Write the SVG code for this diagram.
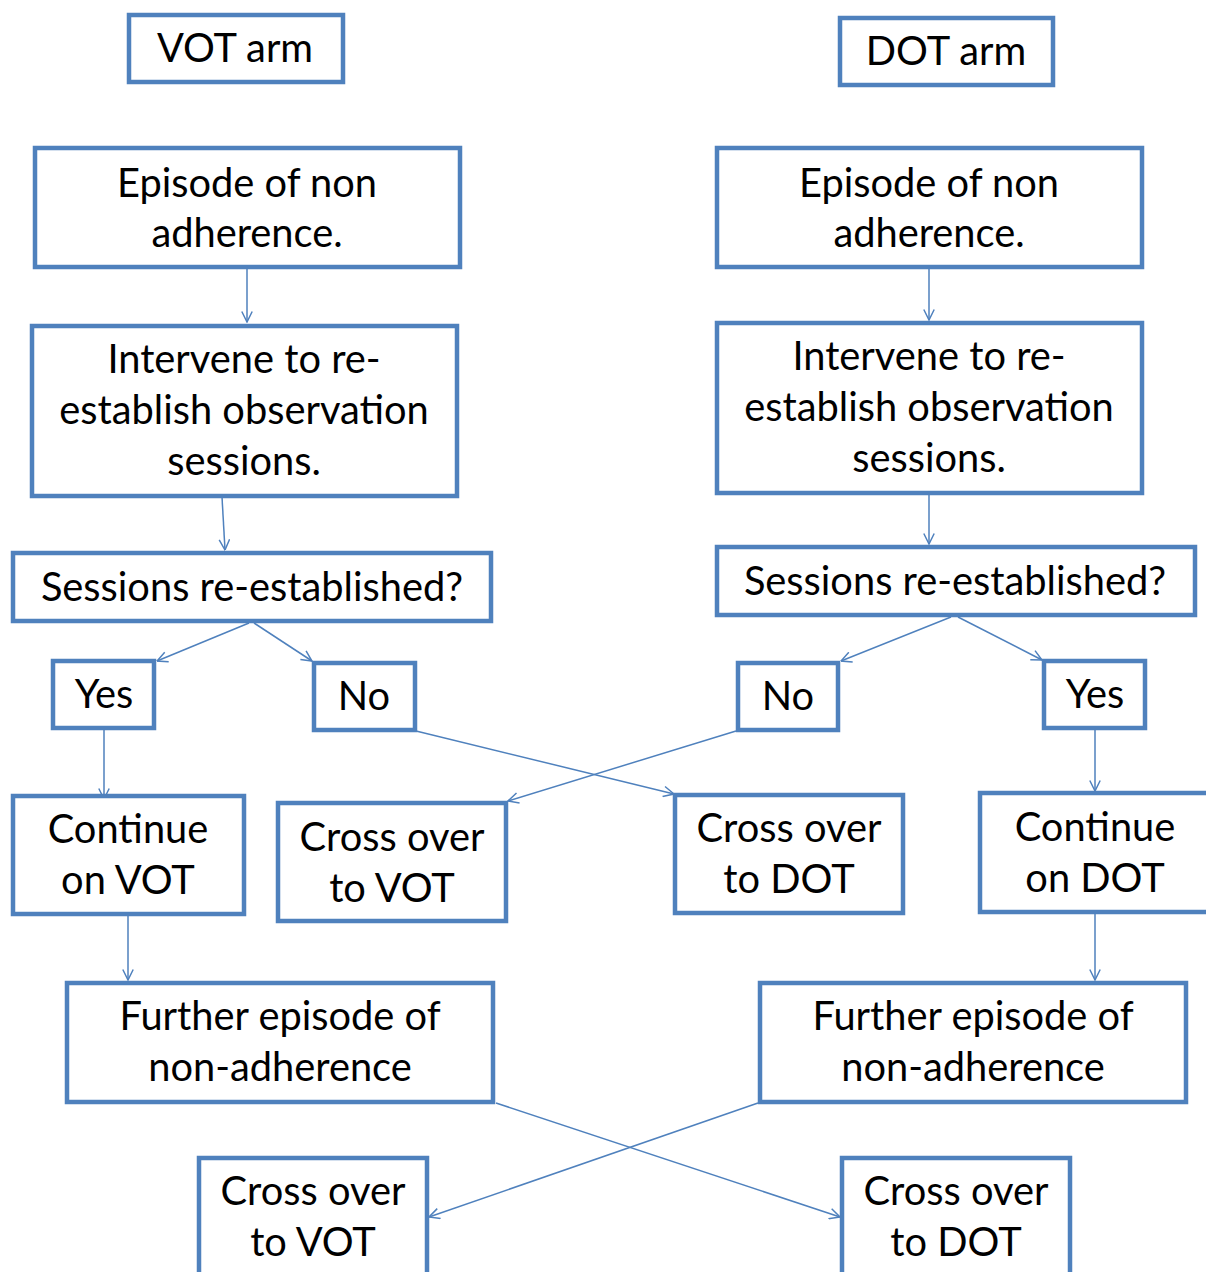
<svg xmlns="http://www.w3.org/2000/svg" width="1206" height="1272" viewBox="0 0 1206 1272">
<defs>
<marker id="arr" viewBox="0 0 12 12" refX="11.5" refY="6" markerWidth="12" markerHeight="12" markerUnits="userSpaceOnUse" orient="auto">
<path d="M1,0.8 L11.5,6 L1,11.2" fill="none" stroke="#4F81BD" stroke-width="1.5"/>
</marker>
</defs>
<style>
.box{fill:#fff;stroke:#4F81BD;stroke-width:4.5}
.t{font-family:Lato,"Liberation Sans",sans-serif;font-size:39.8px;fill:#000;text-anchor:middle}
.c{fill:none;stroke:#4F81BD;stroke-width:1.5;marker-end:url(#arr)}
</style>
<rect width="1206" height="1272" fill="#fff"/>
<g id="connectors">
<line class="c" x1="247" y1="268" x2="247" y2="322"/>
<line class="c" x1="929" y1="268" x2="929" y2="320"/>
<line class="c" x1="222" y1="497" x2="225" y2="550"/>
<line class="c" x1="929" y1="494" x2="929" y2="544"/>
<line class="c" x1="249" y1="623" x2="157" y2="661"/>
<line class="c" x1="254" y1="623" x2="312" y2="661"/>
<line class="c" x1="951" y1="617" x2="841" y2="661"/>
<line class="c" x1="958" y1="617" x2="1042" y2="660"/>
<line class="c" x1="104" y1="729" x2="104" y2="799"/>
<line class="c" x1="1095" y1="729" x2="1095" y2="791"/>
<line class="c" x1="416" y1="731" x2="674" y2="794"/>
<line class="c" x1="736" y1="731" x2="508" y2="801"/>
<line class="c" x1="128" y1="915" x2="128" y2="980"/>
<line class="c" x1="1095" y1="913" x2="1095" y2="980"/>
<line class="c" x1="496" y1="1103" x2="840" y2="1217"/>
<line class="c" x1="758" y1="1103" x2="429" y2="1217"/>
</g>
<g id="vot-arm"><rect class="box" x="129" y="15" width="214" height="67"/><text class="t" x="235" y="62">VOT arm</text></g>
<g id="dot-arm"><rect class="box" x="840" y="18" width="213" height="67"/><text class="t" x="946" y="65">DOT arm</text></g>
<g id="vot-episode"><rect class="box" x="35" y="148" width="425" height="119"/><text class="t" x="247" y="197">Episode of non</text><text class="t" x="247" y="247">adherence.</text></g>
<g id="dot-episode"><rect class="box" x="717" y="148" width="425" height="119"/><text class="t" x="929" y="197">Episode of non</text><text class="t" x="929" y="247">adherence.</text></g>
<g id="vot-intervene"><rect class="box" x="32" y="326" width="425" height="170"/><text class="t" x="244" y="373">Intervene to re-</text><text class="t" x="244" y="424">establish observation</text><text class="t" x="244" y="475">sessions.</text></g>
<g id="dot-intervene"><rect class="box" x="717" y="323" width="425" height="170"/><text class="t" x="929" y="370">Intervene to re-</text><text class="t" x="929" y="421">establish observation</text><text class="t" x="929" y="472">sessions.</text></g>
<g id="vot-sessions"><rect class="box" x="13" y="553" width="478" height="68"/><text class="t" x="252" y="601">Sessions re-established?</text></g>
<g id="dot-sessions"><rect class="box" x="717" y="547" width="478" height="68"/><text class="t" x="955" y="595">Sessions re-established?</text></g>
<g id="vot-yes"><rect class="box" x="53" y="661" width="101" height="67"/><text class="t" x="104" y="708">Yes</text></g>
<g id="vot-no"><rect class="box" x="314" y="663" width="101" height="67"/><text class="t" x="364" y="710">No</text></g>
<g id="dot-no"><rect class="box" x="738" y="663" width="100" height="67"/><text class="t" x="788" y="710">No</text></g>
<g id="dot-yes"><rect class="box" x="1044" y="661" width="101" height="67"/><text class="t" x="1095" y="708">Yes</text></g>
<g id="continue-vot"><rect class="box" x="13" y="796" width="231" height="118"/><text class="t" x="128" y="843">Continue</text><text class="t" x="128" y="894">on VOT</text></g>
<g id="cross-vot-1"><rect class="box" x="278" y="803" width="228" height="118"/><text class="t" x="392" y="851">Cross over</text><text class="t" x="392" y="902">to VOT</text></g>
<g id="cross-dot-1"><rect class="box" x="675" y="795" width="228" height="118"/><text class="t" x="789" y="842">Cross over</text><text class="t" x="789" y="893">to DOT</text></g>
<g id="continue-dot"><rect class="box" x="980" y="793" width="232" height="119"/><text class="t" x="1095" y="841">Continue</text><text class="t" x="1095" y="892">on DOT</text></g>
<g id="vot-further"><rect class="box" x="67" y="983" width="426" height="119"/><text class="t" x="280" y="1030">Further episode of</text><text class="t" x="280" y="1081">non-adherence</text></g>
<g id="dot-further"><rect class="box" x="760" y="983" width="426" height="119"/><text class="t" x="973" y="1030">Further episode of</text><text class="t" x="973" y="1081">non-adherence</text></g>
<g id="cross-vot-2"><rect class="box" x="199" y="1158" width="228" height="130"/><text class="t" x="313" y="1205">Cross over</text><text class="t" x="313" y="1256">to VOT</text></g>
<g id="cross-dot-2"><rect class="box" x="842" y="1158" width="228" height="130"/><text class="t" x="956" y="1205">Cross over</text><text class="t" x="956" y="1256">to DOT</text></g>
</svg>
